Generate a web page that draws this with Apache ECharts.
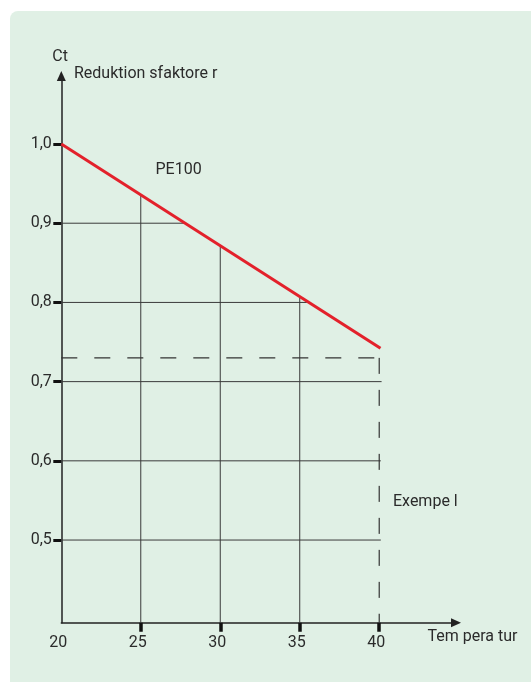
<!DOCTYPE html>
<html>
<head>
<meta charset="utf-8">
<script src="https://cdn.jsdelivr.net/npm/echarts@6/dist/echarts.min.js"></script>
<style>
html,body{margin:0;padding:0;background:#fff;}
#c{width:531px;height:682px;}
</style>
</head>
<body>
<div id="c"></div>
<script>
// ---- data ----
const xTicks = [20, 25, 30, 35, 40];
const yTicks = [0.5, 0.6, 0.7, 0.8, 0.9, 1.0];
const xMin = 20, xMax = 44.83;
const yMin = 0.3955, yMax = 1.086;

// red PE100 curve (straight line)
const redX = [20, 40.08];
const redY = [1.0, 0.742];

// horizontal helper lines: level and where they end (at curve or just past 40)
const hLineY = [0.9, 0.8, 0.7, 0.6, 0.5];
const hLineEndX = [27.85, 35.45, 40.15, 40.1, 40.1];

// vertical helper lines: position and top (where they meet the curve)
const vLineX = [25, 30, 35];
const vLineTopY = [0.936, 0.871, 0.806];

// example (dashed) reading
const exampleX = 40;
const exampleY = 0.73;

const labels = {
  yName: 'Ct',
  ySub: 'Reduktion sfaktore r',
  xName: 'Tem pera tur',
  curve: 'PE100',
  example: 'Exempe l'
};

// ---- chart ----
const FONT = 'Roboto';
const FS = 16;
const TXT = '#2b2b2b';
const chart = echarts.init(document.getElementById('c'), null, {renderer: 'canvas'});

const series = [];
hLineY.forEach((y, i) => {
  series.push({
    type: 'line', silent: true, symbol: 'none', z: 2,
    lineStyle: {color: '#3a3a3a', width: 1},
    data: [[xMin, y], [hLineEndX[i], y]]
  });
});
vLineX.forEach((x, i) => {
  series.push({
    type: 'line', silent: true, symbol: 'none', z: 2,
    lineStyle: {color: '#3a3a3a', width: 1},
    data: [[x, yMin], [x, vLineTopY[i]]]
  });
});
series.push({
  type: 'line', silent: true, symbol: 'none', z: 3,
  lineStyle: {color: '#333', width: 1.2, type: [16, 17]},
  data: [[xMin, exampleY], [exampleX, exampleY]]
});
series.push({
  type: 'line', silent: true, symbol: 'none', z: 3,
  lineStyle: {color: '#333', width: 1.2, type: [16, 16]},
  data: [[exampleX, exampleY], [exampleX, yMin]]
});
series.push({
  type: 'line', silent: true, symbol: 'none', z: 5,
  lineStyle: {color: '#e3212b', width: 3},
  data: redX.map((x, i) => [x, redY[i]])
});

const tfont = FS + 'px "' + FONT + '"';
chart.setOption({
  backgroundColor: '#ffffff',
  animation: false,
  textStyle: {fontFamily: FONT},
  grid: {left: 61.3, right: 75, top: 75.9, bottom: 59.2, containLabel: false},
  graphic: [
    {type: 'rect', z: -10, shape: {x: 10, y: 11, width: 530, height: 690, r: 8},
     style: {fill: '#e0f0e5'}},
    {type: 'text', z: 10, x: 52.3, y: 56.5, style: {text: labels.yName, font: tfont, fill: TXT, textVerticalAlign: 'middle'}},
    {type: 'text', z: 10, x: 74, y: 74, style: {text: labels.ySub, font: tfont, fill: TXT, textVerticalAlign: 'middle'}},
    {type: 'text', z: 10, x: 155.5, y: 170, style: {text: labels.curve, font: tfont, fill: TXT, textVerticalAlign: 'middle'}},
    {type: 'text', z: 10, x: 393, y: 501.5, style: {text: labels.example, font: tfont, fill: TXT, textVerticalAlign: 'middle'}},
    {type: 'text', z: 10, x: 427.5, y: 636.5, style: {text: labels.xName, font: tfont, fill: TXT, textVerticalAlign: 'middle'}}
  ],
  xAxis: {
    type: 'value', min: xMin, max: xMax,
    axisLine: {show: true, lineStyle: {color: '#222', width: 1.5},
      symbol: ['none', 'triangle'], symbolSize: [9, 10]},
    axisTick: {show: true, inside: false, length: 9, customValues: xTicks.slice(1),
      lineStyle: {color: '#111', width: 3.5}},
    axisLabel: {show: true, customValues: xTicks, margin: 12, fontSize: FS,
      fontFamily: FONT, color: TXT, padding: [0, 6, 0, 0],
      formatter: v => String(v)},
    splitLine: {show: false}
  },
  yAxis: {
    type: 'value', min: yMin, max: yMax,
    axisLine: {show: true, lineStyle: {color: '#222', width: 1.5},
      symbol: ['none', 'triangle'], symbolSize: [9, 10]},
    axisTick: {show: true, inside: false, length: 8, customValues: yTicks,
      lineStyle: {color: '#111', width: 3}},
    axisLabel: {show: true, customValues: yTicks, margin: 9.5, fontSize: FS,
      fontFamily: FONT, color: TXT,
      formatter: v => v.toFixed(1).replace('.', ',')},
    splitLine: {show: false}
  },
  series: series
});
</script>
</body>
</html>
